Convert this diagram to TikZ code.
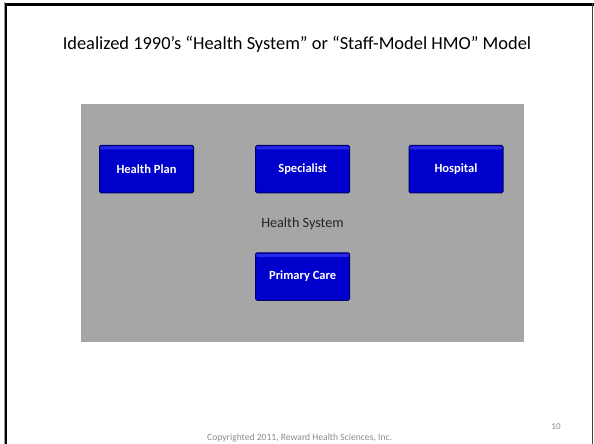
\documentclass[tikz,border=0pt]{standalone}
\usepackage{fontspec}
\setmainfont{Carlito}
\definecolor{boxblue}{RGB}{0,0,204}
\definecolor{boxtop}{RGB}{40,40,235}
\definecolor{boxedge}{RGB}{0,0,110}
\definecolor{panelgray}{RGB}{166,166,166}
\definecolor{footgray}{RGB}{140,140,140}
\definecolor{framegray}{RGB}{150,150,150}
\tikzset{
  bluebox/.style={draw=boxedge, line width=1pt, fill=boxblue, rounded corners=1.5pt,
    minimum width=94pt, minimum height=47.5pt, inner sep=0pt,
    text=white, font=\fontsize{12.5}{14}\selectfont\bfseries,
    path picture={\fill[boxtop] ([yshift=-1pt]path picture bounding box.north west) rectangle ([yshift=-4pt]path picture bounding box.north east);}},
  plain/.style={inner sep=0pt, text=black}
}
\begin{document}
\begin{tikzpicture}[x=1pt,y=-1pt]
\fill[white] (0,0) rectangle (594,444);
\fill[framegray] (3.5,2.5) rectangle (4.6,444);
\fill[black] (4.5,3.3) rectangle (7.2,444);
\fill[black] (4.5,3.3) rectangle (594,6.0);
\fill[black!75] (592.2,3.3) rectangle (593.4,444);
\node[plain, font=\fontsize{18.4}{21}\selectfont] (title) at (297,44) {Idealized 1990’s “Health System” or “Staff-Model HMO” Model};
\node[fill=panelgray, inner sep=0pt, minimum width=443.5pt, minimum height=238pt, anchor=north west] (panel) at (80.7,104) {};
\node[bluebox] (hp) at (146.5,169.2) {Health Plan};
\node[bluebox] (sp) at (302.7,169.2) {Specialist};
\node[bluebox] (ho) at (456,169.2) {Hospital};
\node[bluebox] (pc) at (302.7,276.5) {Primary Care};
\node[plain, font=\fontsize{14.2}{16}\selectfont, text=black!85] (hs) at (302.5,224) {Health System};
\node[plain, font=\fontsize{9}{10}\selectfont, text=footgray] (pg) at (556,427) {10};
\node[plain, font=\fontsize{9.6}{11}\selectfont, text=footgray, anchor=west] (copy) at (207,437.5) {Copyrighted 2011, Reward Health Sciences, Inc.};
\useasboundingbox (0,0) rectangle (594,444);
\end{tikzpicture}
\end{document}
